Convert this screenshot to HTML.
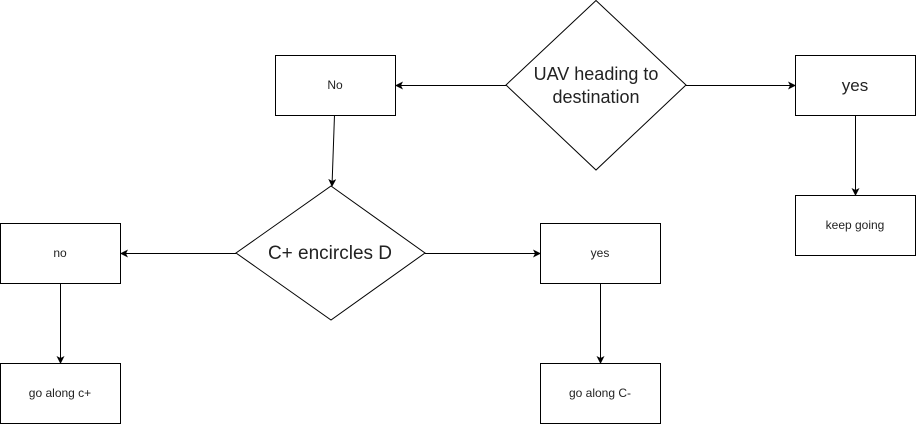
<!DOCTYPE html>
<html><head><style>body{margin:0;background:#fff}svg{display:block}</style></head><body>
<svg width="916" height="424" viewBox="0 0 916 424" xmlns="http://www.w3.org/2000/svg" font-family="Liberation Sans, Arial, sans-serif">
<defs><marker id="a" markerWidth="8" markerHeight="8" refX="7" refY="4" orient="auto" markerUnits="userSpaceOnUse"><path d="M0,0 L8,4 L0,8 L2,4 Z" fill="#000"/></marker></defs>
<g fill="#fff" stroke="#000" stroke-width="1">
<rect x="275.5" y="55.5" width="120" height="60"/>
<rect x="795.5" y="55.5" width="120" height="60"/>
<rect x="795.5" y="195.5" width="120" height="60"/>
<rect x="0.5" y="223.5" width="120" height="60"/>
<rect x="540.5" y="223.5" width="120" height="60"/>
<rect x="0.5" y="363.5" width="120" height="60"/>
<rect x="540.5" y="363.5" width="120" height="60"/>
<polygon points="596,0.5 686,85 596,170 506,85"/>
<polygon points="331,186 425,253 331,320 236,253"/>
</g>
<g stroke="#000" stroke-width="1" fill="none">
<line x1="506" y1="85.5" x2="396" y2="85.5" marker-end="url(#a)"/>
<line x1="686" y1="85.5" x2="795" y2="85.5" marker-end="url(#a)"/>
<line x1="855.5" y1="115" x2="855.5" y2="195" marker-end="url(#a)"/>
<line x1="334.5" y1="115" x2="332" y2="186" marker-end="url(#a)"/>
<line x1="236" y1="253.5" x2="121" y2="253.5" marker-end="url(#a)"/>
<line x1="425" y1="253.5" x2="540" y2="253.5" marker-end="url(#a)"/>
<line x1="60.5" y1="283" x2="60.5" y2="363" marker-end="url(#a)"/>
<line x1="600.5" y1="283" x2="600.5" y2="363" marker-end="url(#a)"/>
</g>
<g text-anchor="middle" fill="#222">
<text x="335" y="89" font-size="12">No</text>
<text x="855" y="91" font-size="17">yes</text>
<text x="855" y="229" font-size="12">keep going</text>
<text x="60" y="257" font-size="12">no</text>
<text x="600" y="257" font-size="12">yes</text>
<text x="60" y="397" font-size="12">go along c+</text>
<text x="600" y="397" font-size="12">go along C-</text>
<text x="596" y="80" font-size="18">UAV heading to</text>
<text x="596" y="103" font-size="18">destination</text>
<text x="330" y="259" font-size="19">C+ encircles D</text>
</g>
</svg>
</body></html>
